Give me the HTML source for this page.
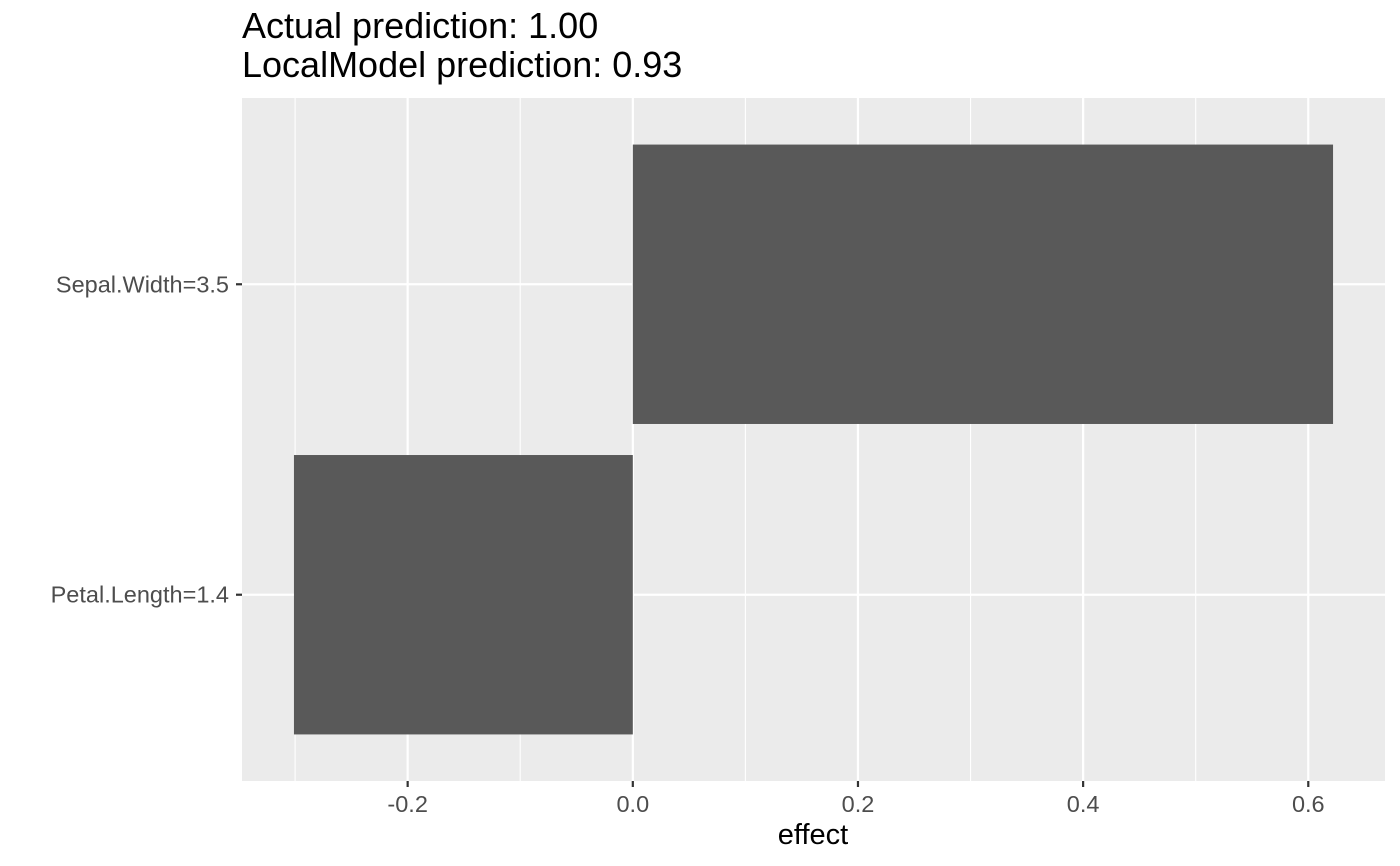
<!DOCTYPE html>
<html><head><meta charset="utf-8"><style>
body{margin:0;background:#fff;}
svg{display:block;font-family:"Liberation Sans",sans-serif;}
</style></head><body>
<svg id="chart" width="1400" height="866">
<text x="242" y="38" font-size="36" fill="#000">Actual prediction: 1.00</text>
<text x="242" y="77" font-size="36" fill="#000">LocalModel prediction: 0.93</text>
<rect x="242" y="98" width="1143" height="683" fill="#EBEBEB"/>
<g id="grid"></g><g id="bars"></g><g id="axes"></g>
<text x="813" y="844" font-size="29" text-anchor="middle" fill="#000">effect</text>
</svg>
<script>
const categories = ["Petal.Length=1.4", "Sepal.Width=3.5"];
const effects = [-0.301, 0.622];
const xTicks = [-0.2, 0.0, 0.2, 0.4, 0.6];
const xTickLabels = ["-0.2", "0.0", "0.2", "0.4", "0.6"];

const NS = "http://www.w3.org/2000/svg";
const px0 = 242, px1 = 1385, py0 = 98, py1 = 781;
const mn = Math.min(0, ...effects), mx = Math.max(0, ...effects);
const pad = (mx - mn) * 0.05;
const xmin = mn - pad, xmax = mx + pad;
const x = v => px0 + (v - xmin) / (xmax - xmin) * (px1 - px0);
const ymin = 0.4, ymax = categories.length + 0.6;
const y = i => py1 - (i + 1 - ymin) / (ymax - ymin) * (py1 - py0);
const unit = (py1 - py0) / (ymax - ymin);
function mk(tag, attrs, parent) { const e = document.createElementNS(NS, tag); for (const k in attrs) e.setAttribute(k, attrs[k]); parent.appendChild(e); return e; }
const grid = document.getElementById("grid"), bars = document.getElementById("bars"), axes = document.getElementById("axes");
for (let i = 0; i < xTicks.length - 1; i++) {
  const m = (xTicks[i] + xTicks[i + 1]) / 2;
  const l = mk("line", {x1: x(m), x2: x(m), y1: py0, y2: py1, stroke: "#fff", "stroke-width": 1.1}, grid);
  
  
}
const firstMinor = xTicks[0] - (xTicks[1] - xTicks[0]) / 2;
if (x(firstMinor) > px0) {
  const l = mk("line", {x1: x(firstMinor), x2: x(firstMinor), y1: py0, y2: py1, stroke: "#fff", "stroke-width": 1.1}, grid);
  
  
}
xTicks.forEach((t, i) => {
  const l = mk("line", {x1: x(t), x2: x(t), y1: py0, y2: py1, stroke: "#fff", "stroke-width": 2.2}, grid);
  
  
  const tk = mk("line", {x1: x(t), x2: x(t), y1: py1, y2: py1 + 6, stroke: "#333", "stroke-width": 2.2}, axes);
  
  
  const tx = mk("text", {x: x(t), y: 812, "font-size": 23.5, "text-anchor": "middle", fill: "#4D4D4D"}, axes);
  tx.textContent = xTickLabels[i];
  
  
});
categories.forEach((c, i) => {
  const l = mk("line", {x1: px0, x2: px1, y1: y(i), y2: y(i), stroke: "#fff", "stroke-width": 2.2}, grid);
  
  
  const tk = mk("line", {x1: px0 - 6, x2: px0, y1: y(i), y2: y(i), stroke: "#333", "stroke-width": 2.2}, axes);
  
  
  const tx = mk("text", {x: px0 - 13, y: y(i) + 8, "font-size": 23.5, "text-anchor": "end", fill: "#4D4D4D"}, axes);
  tx.textContent = c;
  
  
  const v = effects[i];
  const b = mk("rect", {x: Math.min(x(0), x(v)), width: Math.abs(x(v) - x(0)), y: y(i) - 0.45 * unit, height: 0.9 * unit, fill: "#595959"}, bars);
  
  
});
</script>
</body></html>
